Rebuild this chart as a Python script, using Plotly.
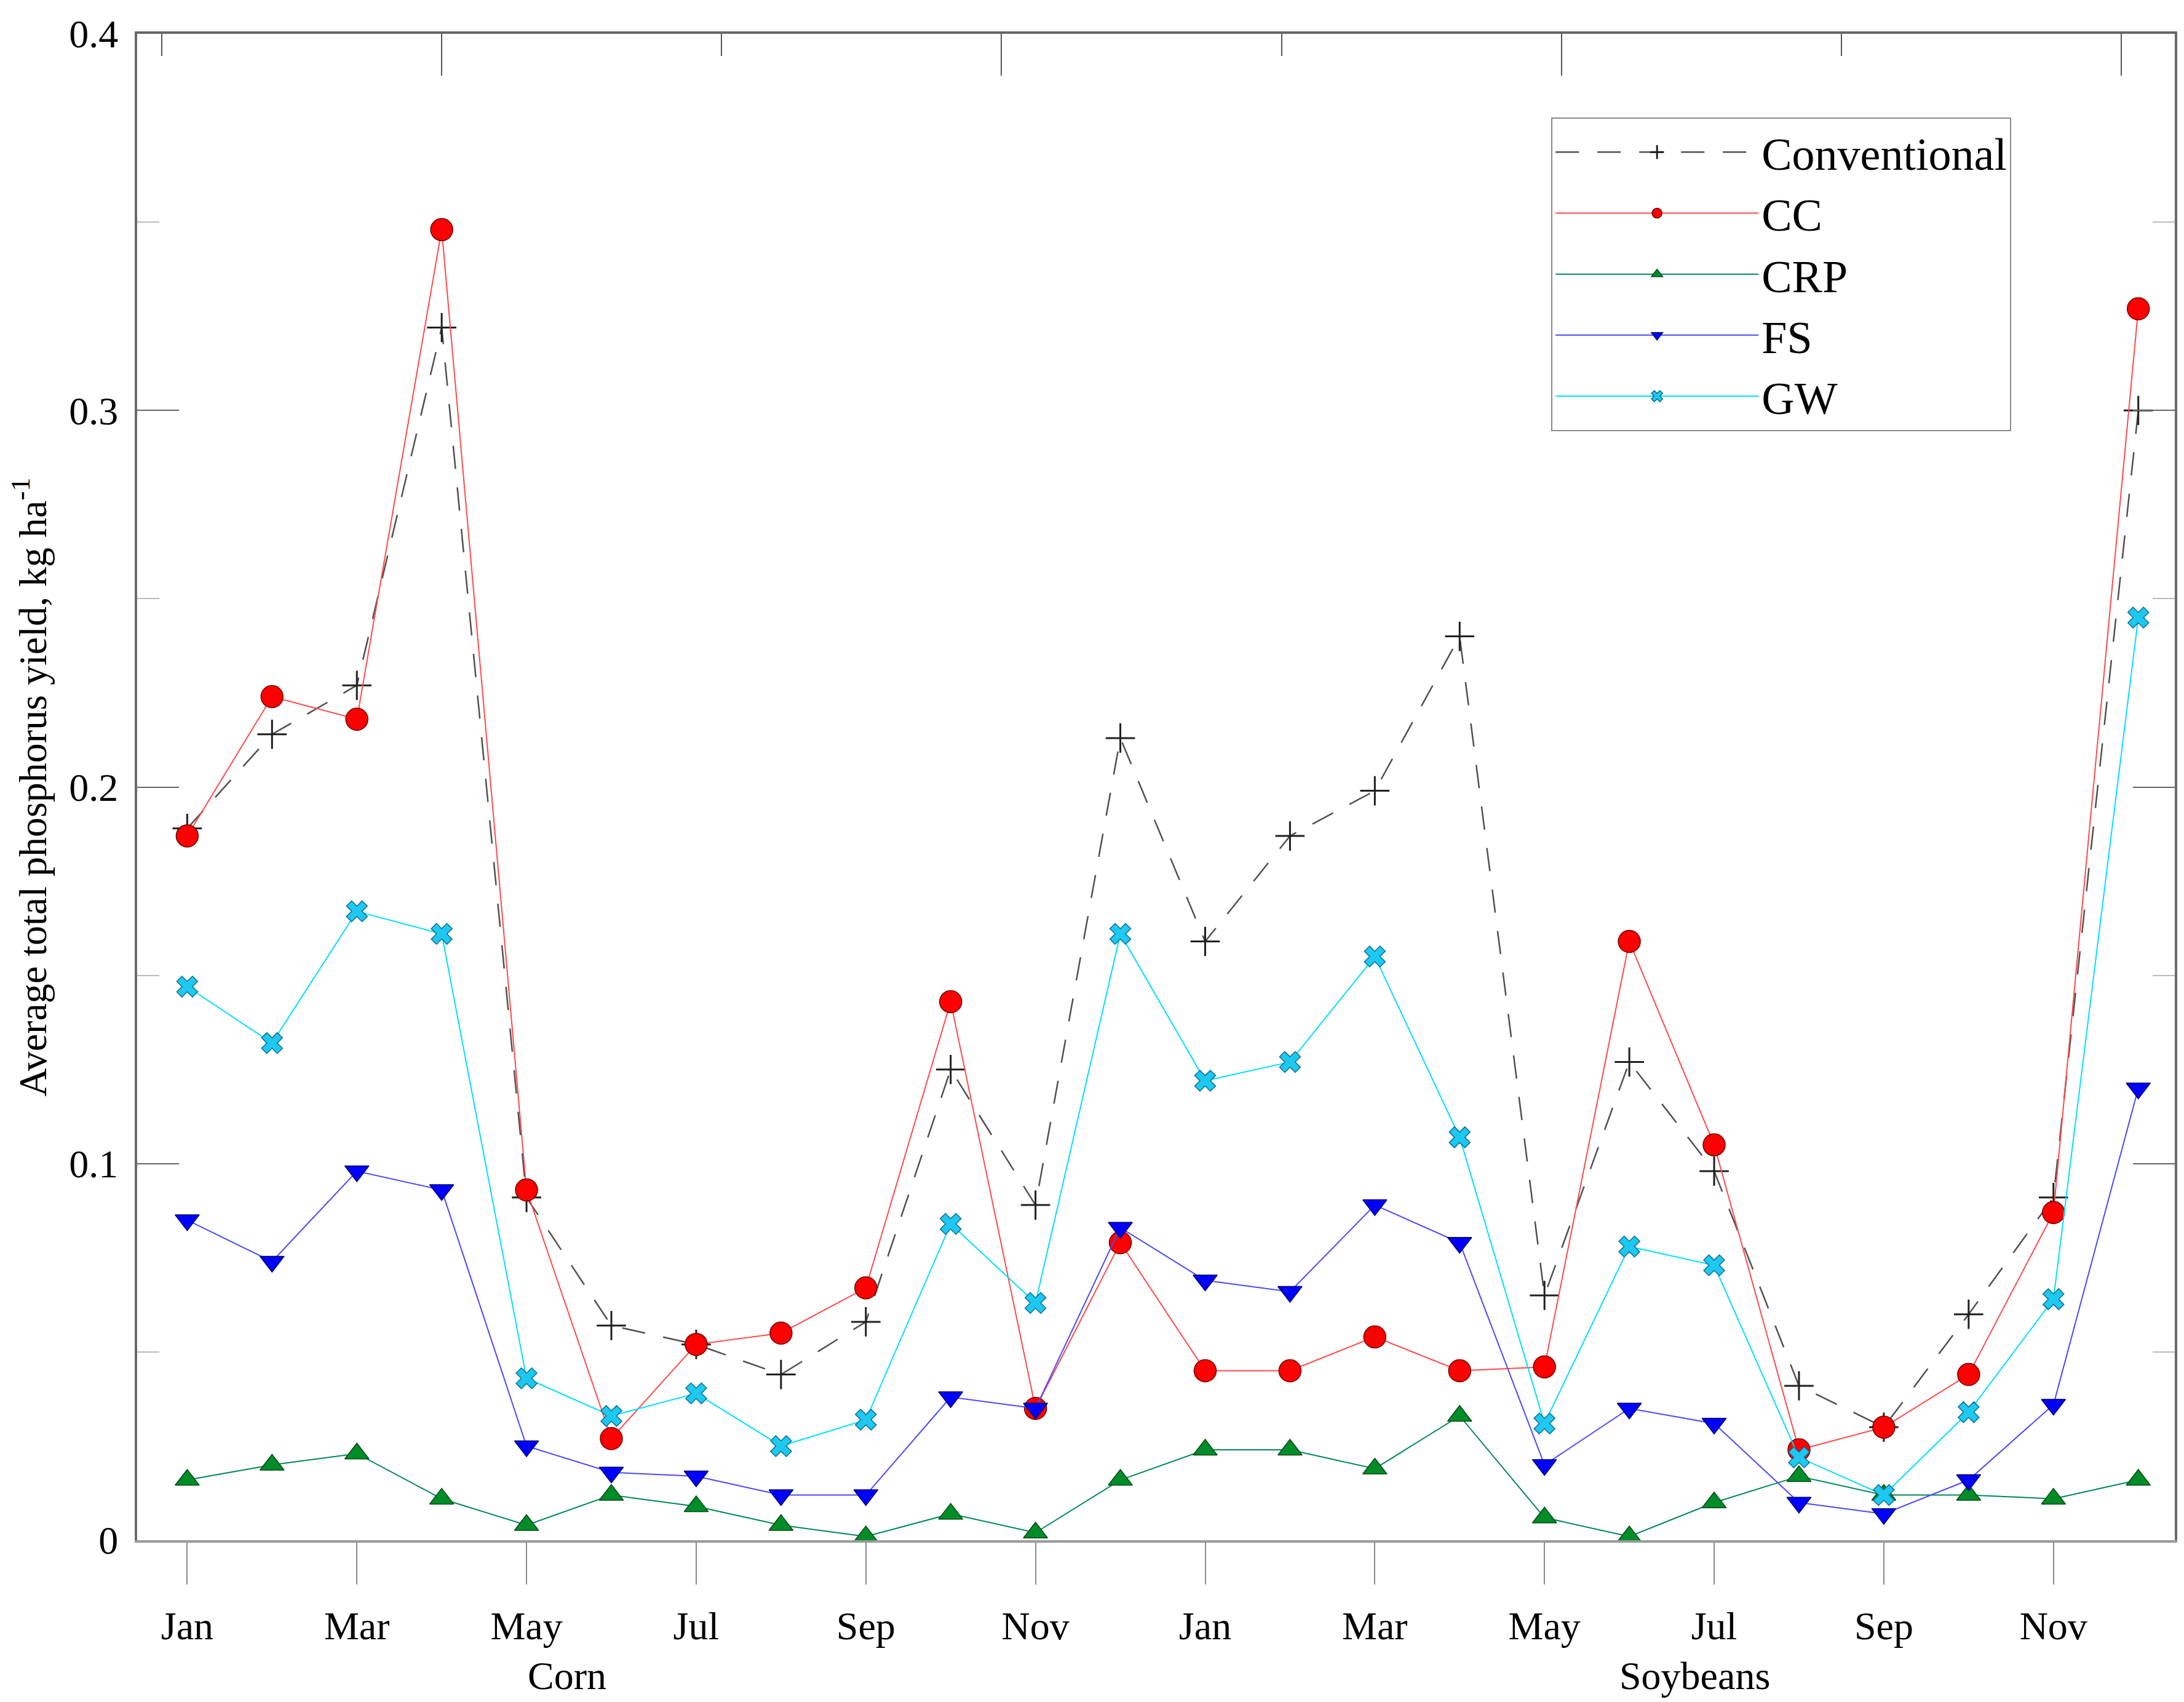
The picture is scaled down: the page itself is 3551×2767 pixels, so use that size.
import plotly.graph_objects as go

# two years: corn then soybeans, one value per month
months = ["Jan", "Feb", "Mar", "Apr", "May", "Jun",
          "Jul", "Aug", "Sep", "Oct", "Nov", "Dec"] * 2
crops = ["Corn", "Soybeans"]

conventional = [0.189, 0.214, 0.227, 0.322, 0.091, 0.057, 0.052, 0.044, 0.058, 0.125, 0.089, 0.213,
                0.159, 0.187, 0.199, 0.240, 0.065, 0.127, 0.098, 0.041, 0.030, 0.060, 0.091, 0.300]
cc = [0.187, 0.224, 0.218, 0.348, 0.093, 0.027, 0.052, 0.055, 0.067, 0.143, 0.035, 0.079,
      0.045, 0.045, 0.054, 0.045, 0.046, 0.159, 0.105, 0.024, 0.030, 0.044, 0.087, 0.327]
crp = [0.016, 0.020, 0.023, 0.011, 0.004, 0.012, 0.009, 0.004, 0.001, 0.007, 0.002, 0.016,
       0.024, 0.024, 0.019, 0.033, 0.006, 0.001, 0.010, 0.017, 0.012, 0.012, 0.011, 0.016]
fs = [0.085, 0.074, 0.098, 0.093, 0.025, 0.018, 0.017, 0.012, 0.012, 0.038, 0.035, 0.083,
      0.069, 0.066, 0.089, 0.079, 0.020, 0.035, 0.031, 0.010, 0.007, 0.016, 0.036, 0.120]
gw = [0.147, 0.132, 0.167, 0.161, 0.043, 0.033, 0.039, 0.025, 0.032, 0.084, 0.063, 0.161,
      0.122, 0.127, 0.155, 0.107, 0.031, 0.078, 0.073, 0.022, 0.012, 0.034, 0.064, 0.245]

x = list(range(len(months)))
FONT = "Liberation Serif"
XR = [-0.59, 23.43]

fig = go.Figure()

fig.add_trace(go.Scatter(
    x=x, y=conventional, name="Conventional", mode="lines+markers", legendgroup="a",
    line=dict(color="#505050", width=2.5, dash="38px,30px"),
    marker=dict(symbol="cross-thin", size=34, line=dict(color="#202020", width=3)),
    cliponaxis=False))
fig.add_trace(go.Scatter(
    x=x, y=cc, name="CC", mode="lines+markers", legendgroup="b",
    line=dict(color="#ff4a4a", width=2),
    marker=dict(symbol="circle", size=36, color="#ff0000", line=dict(color="#700000", width=1.5)),
    cliponaxis=False))
fig.add_trace(go.Scatter(
    x=x, y=crp, name="CRP", mode="lines+markers", legendgroup="c",
    line=dict(color="#00875a", width=2),
    marker=dict(symbol="triangle-up", size=34, color="#008c28", line=dict(color="#004a14", width=1.5)),
    cliponaxis=False))
fig.add_trace(go.Scatter(
    x=x, y=fs, name="FS", mode="lines+markers", legendgroup="d",
    line=dict(color="#4a4aff", width=2),
    marker=dict(symbol="triangle-down", size=34, color="#0000ff", line=dict(color="#000070", width=1.5)),
    cliponaxis=False))
fig.add_trace(go.Scatter(
    x=x, y=gw, name="GW", mode="lines+markers", legendgroup="e",
    line=dict(color="#00e0ff", width=2),
    marker=dict(symbol="x", size=30, color="#1ec8f0", line=dict(color="#0a6f90", width=1.5)),
    cliponaxis=False))

# invisible copy on the top axis so that its ticks get drawn
fig.add_trace(go.Scatter(
    x=x, y=crp, xaxis="x2", mode="markers", marker=dict(opacity=0),
    showlegend=False, hoverinfo="skip"))

# crop names under the month labels
for name, pos in zip(crops, [4.48, 17.77]):
    fig.add_annotation(x=pos, y=-0.09, xref="x", yref="paper", text=name, showarrow=False,
                       yanchor="middle", font=dict(family=FONT, size=64, color="black"))

fig.update_layout(
    width=3551, height=2767,
    margin=dict(l=215, r=23, t=41, b=271),
    paper_bgcolor="white", plot_bgcolor="white",
    font=dict(family=FONT, size=64, color="black"),
    showlegend=True,
    legend=dict(x=0.694, y=0.9446, xanchor="left", yanchor="top",
                bordercolor="#8a8a8a", borderwidth=2, bgcolor="white",
                font=dict(family=FONT, size=74, color="black"),
                itemwidth=330, tracegroupgap=27, traceorder="normal"),
    xaxis=dict(range=XR, tickvals=x[::2], ticktext=months[::2],
               ticks="outside", ticklen=68, tickwidth=2, tickcolor="#8a8a8a",
               ticklabelstandoff=12, showgrid=False, zeroline=False,
               showline=True, linecolor="#9a9a9a", linewidth=4, mirror=True),
    xaxis2=dict(overlaying="x", side="top", anchor="y", range=XR,
                tickvals=[3.0, 9.6, 16.2, 22.8], ticks="inside", ticklen=68, tickwidth=2,
                tickcolor="#555555", showticklabels=False, showgrid=False, zeroline=False,
                showline=True, linecolor="#666666", linewidth=4,
                minor=dict(tickvals=[-0.3, 6.3, 12.9, 19.5], ticks="inside", ticklen=36,
                           tickwidth=2, tickcolor="#555555")),
    yaxis=dict(range=[0, 0.4], tickvals=[0, 0.1, 0.2, 0.3, 0.4],
               ticktext=["0", "0.1", "0.2", "0.3", "0.4"],
               ticks="inside", ticklen=68, tickwidth=2, tickcolor="#666666",
               ticklabelstandoff=14,
               showgrid=False, zeroline=False, showline=True, linecolor="#6a6a6a",
               linewidth=4, mirror="ticks",
               minor=dict(dtick=0.05, tick0=0.05, ticks="inside", ticklen=36, tickwidth=2,
                          tickcolor="#bbbbbb"),
               title=dict(text="Average total phosphorus yield, kg ha<sup>-1</sup>",
                          font=dict(family=FONT, size=64), standoff=24)),
)

fig.write_html("out.html")
